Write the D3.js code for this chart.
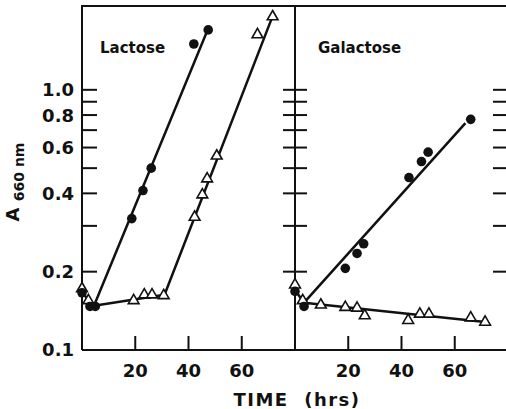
<!DOCTYPE html>
<html>
<head>
<meta charset="utf-8">
<script src="https://cdn.jsdelivr.net/npm/d3@7"></script>
<style>
  html, body { margin: 0; padding: 0; background: #fff; }
  svg { display: block; font-family: "DejaVu Sans", sans-serif; }
</style>
</head>
<body>
<svg id="chart" width="506" height="409"></svg>
<script>
// ---- data (time in hrs, absorbance at 660 nm) ----
var lactoseCircles = [[0,0.166],[3,0.147],[5,0.147],[18.7,0.32],[22.9,0.41],[26,0.50],[42,1.50],[47.4,1.70]];
var lactoseTriangles = [[0,0.172],[2.4,0.155],[19.4,0.155],[23.4,0.163],[26.3,0.163],[30.7,0.162],[42.3,0.324],[45.2,0.395],[47,0.455],[50.6,0.557],[65.9,1.63],[71.6,1.91]];
var lactoseCircleLine = [[0,0.166],[4.5,0.148],[47.4,1.72]];
var lactoseTriangleLine = [[4.5,0.148],[31,0.163],[71.6,1.92]];

var galactoseCircles = [[0,0.168],[3.4,0.147],[18.9,0.206],[23.3,0.235],[25.8,0.256],[42.8,0.46],[47.5,0.53],[50,0.576],[66,0.77]];
var galactoseTriangles = [[0,0.178],[2.9,0.155],[9.7,0.149],[18.9,0.146],[23.3,0.145],[26.2,0.1355],[42.5,0.130],[46.9,0.1375],[50.3,0.1375],[66,0.133],[71.4,0.128]];
var galactoseCircleLine = [[0,0.17],[3.4,0.152],[64,0.745]];
var galactoseTriangleLine = [[3.4,0.152],[71.4,0.128]];

var xTicks = [20, 40, 60];
var yTicks = [0.2, 0.3, 0.4, 0.5, 0.6, 0.7, 0.8, 0.9, 1.0];
var yLabels = [0.1, 0.2, 0.4, 0.6, 0.8, 1.0];
var panelNames = ['Lactose', 'Galactose'];

// ---- layout ----
var plotTop = 6, plotBottom = 350, plotLeft = 82, plotMid = 295, plotRight = 508;
var svg = d3.select('#chart');

var y = d3.scaleLog().domain([0.1, 2.1]).range([plotBottom, plotTop]);
var xL = d3.scaleLinear().domain([0, 80]).range([plotLeft, plotMid]);
var xR = d3.scaleLinear().domain([0, 80]).range([plotMid, plotRight]);

var ink = '#111';

// frame
var frame = svg.append('g').attr('stroke', ink).attr('stroke-width', 2).attr('fill', 'none');
frame.append('path').attr('d', 'M' + plotLeft + ',' + plotBottom + 'V' + plotTop + 'H' + plotRight);
frame.append('path').attr('d', 'M' + plotLeft + ',' + plotBottom + 'H' + plotRight);
frame.append('path').attr('d', 'M' + plotMid + ',' + plotTop + 'V' + plotBottom);

// y ticks: left axis inward, divider both sides, right axis inward
var yt = svg.append('g').attr('stroke', ink).attr('stroke-width', 2);
yTicks.forEach(function(v){
  var py = y(v);
  yt.append('line').attr('x1', plotLeft).attr('x2', plotLeft + 15).attr('y1', py).attr('y2', py);
  yt.append('line').attr('x1', plotMid - 12).attr('x2', plotMid + 12).attr('y1', py).attr('y2', py);
  yt.append('line').attr('x1', plotRight - 15).attr('x2', plotRight).attr('y1', py).attr('y2', py);
});

// y labels
svg.append('g').selectAll('text').data(yLabels).enter().append('text')
  .attr('x', 74).attr('y', function(d){ return y(d); })
  .attr('dy', '0.36em')
  .attr('text-anchor', 'end')
  .attr('font-size', 18).attr('font-weight', 'bold').attr('fill', ink)
  .text(function(d){ return d3.format('.1f')(d); });

// x ticks + labels for both panels
[xL, xR].forEach(function(x){
  var g = svg.append('g');
  g.selectAll('line').data(xTicks).enter().append('line')
    .attr('x1', function(d){ return x(d); }).attr('x2', function(d){ return x(d); })
    .attr('y1', plotBottom).attr('y2', plotBottom - 14)
    .attr('stroke', ink).attr('stroke-width', 2);
  g.selectAll('text').data(xTicks).enter().append('text')
    .attr('x', function(d){ return x(d); }).attr('y', 377)
    .attr('text-anchor', 'middle')
    .attr('font-size', 18).attr('font-weight', 'bold').attr('fill', ink)
    .text(function(d){ return d; });
});

// axis titles
svg.append('text')
  .attr('x', 297).attr('y', 406).attr('text-anchor', 'middle')
  .attr('font-size', 18).attr('font-weight', 'bold').attr('fill', ink)
  .attr('letter-spacing', 1.5)
  .attr('xml:space', 'preserve')
  .text('TIME  (hrs)');

var yl = svg.append('text')
  .attr('transform', 'translate(19,182) rotate(-90)')
  .attr('text-anchor', 'middle').attr('fill', ink).attr('font-weight', 'bold');
yl.append('tspan').attr('font-size', 18).text('A ');
yl.append('tspan').attr('font-size', 14).attr('dy', 5).text('660 nm');

// panel titles
svg.append('text').attr('x', 100).attr('y', 53).attr('font-size', 15).attr('font-weight', 'bold').attr('fill', ink).text(panelNames[0]);
svg.append('text').attr('x', 318).attr('y', 53).attr('font-size', 15).attr('font-weight', 'bold').attr('fill', ink).text(panelNames[1]);

// series drawing
var tri = d3.symbol().type(d3.symbolTriangle).size(50);

function drawPanel(x, circles, triangles, circleLine, triangleLine){
  var line = d3.line().x(function(d){ return x(d[0]); }).y(function(d){ return y(d[1]); });
  var g = svg.append('g');
  [circleLine, triangleLine].forEach(function(l){
    g.append('path').attr('d', line(l))
      .attr('fill', 'none').attr('stroke', ink).attr('stroke-width', 2.5)
      .attr('stroke-linejoin', 'round');
  });
  g.selectAll('path.tri').data(triangles).enter().append('path')
    .attr('class', 'tri')
    .attr('d', tri)
    .attr('transform', function(d){ return 'translate(' + x(d[0]) + ',' + y(d[1]) + ')'; })
    .attr('fill', '#fff').attr('stroke', ink).attr('stroke-width', 1.6);
  g.selectAll('circle').data(circles).enter().append('circle')
    .attr('cx', function(d){ return x(d[0]); })
    .attr('cy', function(d){ return y(d[1]); })
    .attr('r', 4.8).attr('fill', ink);
}

drawPanel(xL, lactoseCircles, lactoseTriangles, lactoseCircleLine, lactoseTriangleLine);
drawPanel(xR, galactoseCircles, galactoseTriangles, galactoseCircleLine, galactoseTriangleLine);
</script>
</body>
</html>
